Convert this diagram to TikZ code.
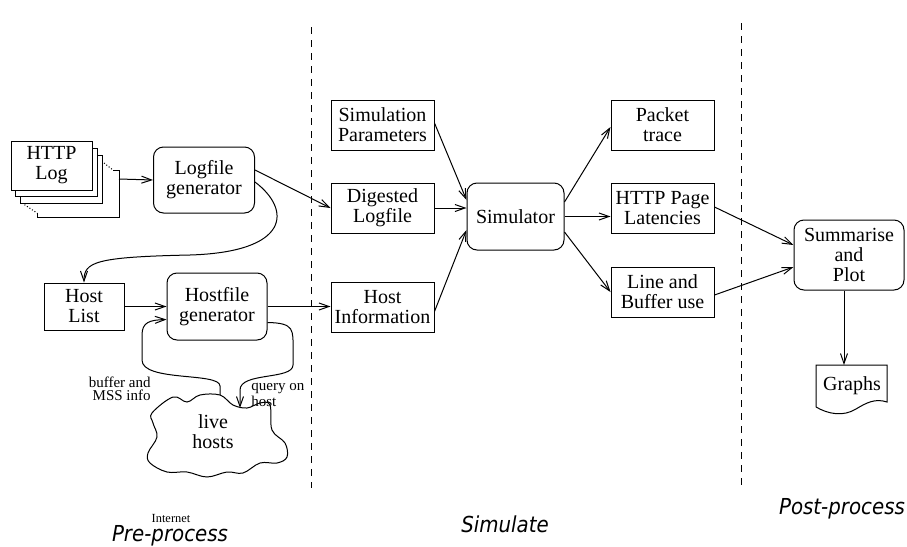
\documentclass[tikz,border=0pt]{standalone}
\usepackage{fontspec}
\setmainfont{Liberation Serif}
\newfontfamily\labelfont{Liberation Serif}
\newfontfamily\phasefont{DejaVu Sans Condensed}
\usetikzlibrary{arrows.meta}
\tikzset{
	box/.style={draw, line width=0.5pt, minimum width=51.5pt, minimum height=25pt, inner sep=1pt, align=center, font=\labelfont\fontsize{10}{10}\selectfont},
	rbox/.style={box, rounded corners=5pt},
	arr/.style={line width=0.5pt, -{Straight Barb[length=5pt,width=3.5pt]}},
	note/.style={inner sep=0pt, font=\labelfont\fontsize{7.5}{6.5}\selectfont},
	phase/.style={inner sep=0pt, font=\phasefont\itshape\fontsize{11}{12}\selectfont},
	divider/.style={line width=0.5pt, dash pattern=on 3.5pt off 3pt}
}
% one sheet of the log stack: x, y of top left corner (px)
\newcommand{\logsheet}[2]
{
	\draw[line width=0.5pt, fill=white] (#1,#2) rectangle ++(82,48);
}

\begin{document}
\begin{tikzpicture}[x=0.5pt, y=-0.5pt]
	% page: 907 x 547 px
	\useasboundingbox (0,0) rectangle (907,547);

	% phase separators
	\draw[divider] (311,27) -- (311,488);
	\draw[divider] (741,23) -- (741,488);

	% stack of log files
	\draw[line width=0.5pt] (113,170) -- (119,170) -- (119,217) -- (37,217) -- (37,213);
	\draw[line width=0.5pt, densely dotted] (104,163) -- (113,170);
	\draw[line width=0.5pt, densely dotted] (22,203) -- (37,213);
	\logsheet{20}{155}
	\logsheet{15}{148}
	\node[box, fill=white, minimum width=40.5pt, minimum height=24.5pt] (log) at (51.5,165.5) {HTTP\\Log};
	\coordinate (stack) at (119,179);

	% pre-process
	\node[rbox, minimum width=50.5pt, minimum height=33pt] (lgen) at (204,180) {Logfile\\generator};
	\node[box, minimum width=40pt, minimum height=23.5pt] (hlist) at (84,306.5) {Host\\List};
	\node[rbox, minimum width=50pt, minimum height=33.5pt] (hgen) at (217,306.5) {Hostfile\\generator};

	% live hosts cloud
	\draw[line width=0.5pt] plot[smooth cycle, tension=0.6] coordinates {
		(152,413) (173,397) (187,402) (200,395) (220,395) (233,405) (247,408)
		(260,403) (270,405) (272,430) (285,443) (287,457) (277,463) (260,463)
		(243,473) (227,472) (207,477) (187,472) (167,472) (150,463) (148,453)
		(157,437) (153,423)};
	\node[box, draw=none] (hosts) at (213,432) {live\\hosts};
	\coordinate (cloudtop) at (220,395);
	\coordinate (query) at (240,408);
	\node[note, align=right, anchor=east] (info) at (151,389) {buffer and\\MSS info};
	\node[note, align=left, anchor=west] (qlabel) at (251,395) {query on\\host};
	\node[note, font=\labelfont\fontsize{6.2}{7}\selectfont] (inet) at (171,518) {Internet};

	% simulate
	\node[box] (par) at (382.5,125) {Simulation\\Parameters};
	\node[box] (dig) at (382.5,208) {Digested\\Logfile};
	\node[box] (hinf) at (382.5,307.5) {Host\\Information};
	\node[rbox, minimum width=48.5pt, minimum height=33.5pt] (sim) at (515.5,216.5) {Simulator};
	\node[box] (pkt) at (662.5,125) {Packet\\trace};
	\node[box] (lat) at (662.5,208) {HTTP Page\\Latencies};
	\node[box] (buf) at (662.5,292) {Line and\\Buffer use};

	% post-process
	\node[rbox, minimum width=55pt, minimum height=35pt] (summ) at (849,255) {Summarise\\and\\Plot};
	\draw[line width=0.5pt] (816,407) -- (816,365) -- (887,365) -- (887,402)
		.. controls (875,398) and (866,403) .. (856,409)
		.. controls (843,417) and (828,414) .. (816,407);
	\node[box, draw=none] (graphs) at (852,386) {Graphs};
	\coordinate (gtop) at (844,365);

	% connectors
	\draw[arr] (stack) -- (lgen.west);
	\draw[arr] ([yshift=5pt]lgen.east) -- (dig.west);
	\draw[arr] ([yshift=-1pt]lgen.east) .. controls (292,210) and (290,252) .. (190,255)
		.. controls (95,257) and (84,262) .. (hlist.north);
	\draw[arr] (hlist.east) -- (hgen.west);
	\draw[arr] (hgen.east) -- (hgen.east -| hinf.west);
	\draw[arr] (cloudtop) -- (220,386) .. controls (220,372) and (142,382) .. (142,360)
		-- (142,335) .. controls (142,322) and (150,320) .. ([yshift=-6.5pt]hgen.west);
	\draw[arr] ([yshift=-8pt]hgen.east) .. controls (295,323) and (293,330) .. (293,350)
		-- (293,365) .. controls (293,380) and (240,372) .. (240,390) -- (query);

	\draw[arr] ([yshift=1pt]par.east) -- ([yshift=8.25pt]sim.west);
	\draw[arr] (dig.east) -- (dig.east -| sim.west);
	\draw[arr] ([yshift=-2pt]hinf.east) -- ([yshift=-6.75pt]sim.west);
	\draw[arr] ([yshift=7.25pt]sim.east) -- ([yshift=-1pt]pkt.west);
	\draw[arr] (sim.east) -- (sim.east -| lat.west);
	\draw[arr] ([yshift=-7.75pt]sim.east) -- (buf.west);
	\draw[arr] ([yshift=0.5pt]lat.east) -- ([yshift=5pt]summ.west);
	\draw[arr] ([yshift=-1.5pt]buf.east) -- ([yshift=-6pt]summ.west);
	\draw[arr] ([xshift=-2.5pt]summ.south) -- (gtop);

	% phase names
	\node[phase] (pre) at (170,536) {Pre-process};
	\node[phase] (simph) at (505,524) {Simulate};
	\node[phase] (post) at (842,509) {Post-process};
\end{tikzpicture}
\end{document}
